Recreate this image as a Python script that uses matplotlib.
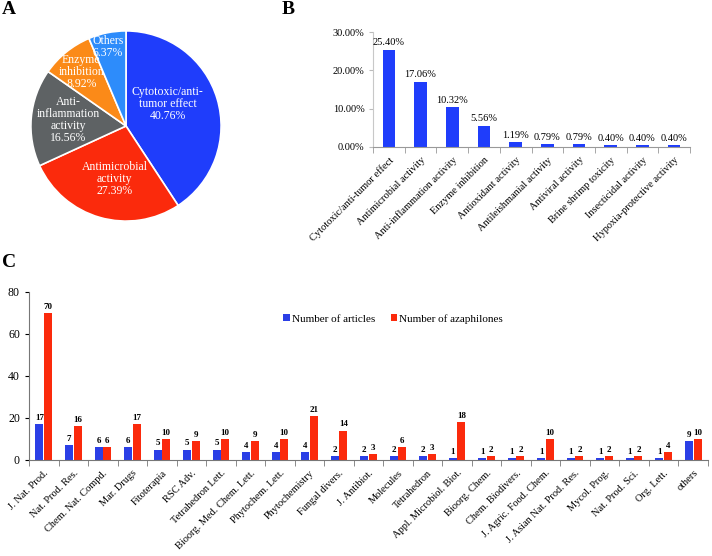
import matplotlib
matplotlib.use("Agg")
import matplotlib.pyplot as plt
import numpy as np

plt.rcParams['font.family'] = ['Liberation Serif', 'DejaVu Serif']

# panel A
pie_labels = ["Cytotoxic/anti-\ntumor effect", "Antimicrobial\nactivity", "Anti-\ninflammation\nactivity",
              "Enzyme\ninhibition", "Others"]
pie_values = [40.76, 27.39, 16.56, 8.92, 6.37]
pie_colors = ['#1f3dfb', '#fb2a0c', '#5e6264', '#fb8a18', '#2d8cfb']

# panel B
act_names = ["Cytotoxic/anti-tumor effect", "Antimicrobial activity", "Anti-inflammation activity",
             "Enzyme inhibition", "Antioxidant activity", "Antileishmanial activity", "Antiviral activity",
             "Brine shrimp toxicity", "Insecticidal activity", "Hypoxia-protective activity"]
act_values = [25.40, 17.06, 10.32, 5.56, 1.19, 0.79, 0.79, 0.40, 0.40, 0.40]

# panel C
journals = ["J. Nat. Prod.", "Nat. Prod. Res.", "Chem. Nat. Compd.", "Mar. Drugs", "Fitoterapia", "RSC Adv.",
            "Tetrahedron Lett.", "Bioorg. Med. Chem. Lett.", "Phytochem. Lett.", "Phytochemistry",
            "Fungal divers.", "J. Antibiot.", "Molecules", "Tetrahedron", "Appl. Microbiol. Biot.",
            "Bioorg. Chem.", "Chem. Biodivers.", "J. Agric. Food. Chem.", "J. Asian Nat. Prod. Res.",
            "Mycol. Prog.", "Nat. Prod. Sci.", "Org. Lett.", "others"]
n_articles = [17, 7, 6, 6, 5, 5, 5, 4, 4, 4, 2, 2, 2, 2, 1, 1, 1, 1, 1, 1, 1, 1, 9]
n_azaphilones = [70, 16, 6, 17, 10, 9, 10, 9, 10, 21, 14, 3, 6, 3, 18, 2, 2, 10, 2, 2, 2, 4, 10]

W, H = 712, 556
fig = plt.figure(figsize=(W / 100, H / 100), dpi=100)


def box(x0, y0, x1, y1):
    return [x0 / W, 1 - y1 / H, (x1 - x0) / W, (y1 - y0) / H]


# ---- A ----
axA = fig.add_axes(box(29, 29, 223, 223))
wedges, texts = axA.pie(pie_values, colors=pie_colors, startangle=90, counterclock=False,
                        wedgeprops=dict(edgecolor='white', linewidth=1.2))
pos = [(0.44, 0.23), (-0.12, -0.56), (-0.61, 0.06), (-0.47, 0.57), (-0.19, 0.83)]
for lab, v, (x, y) in zip(pie_labels, pie_values, pos):
    axA.text(x, y, "%s\n%.2f%%" % (lab, v), color='white', ha='center', va='center',
             fontsize=8.5, linespacing=1.0)
axA.set_xlim(-1.02, 1.02)
axA.set_ylim(-1.02, 1.02)
fig.text(2 / W, 1 - 9 / H, "A", fontsize=14, fontweight='bold', va='center')

# ---- B ----
axB = fig.add_axes(box(373, 32, 690, 147))
xb = np.arange(len(act_values))
axB.bar(xb, act_values, width=0.4, color='#1f3dfb')
for x, v in zip(xb, act_values):
    axB.text(x, v + 0.6, "%.2f%%" % v, ha='center', va='bottom', fontsize=7.5)
axB.set_xlim(-0.5, len(act_values) - 0.5)
axB.set_ylim(0, 30)
axB.set_yticks([0, 10, 20, 30])
axB.set_yticklabels(["%.2f%%" % t for t in [0, 10, 20, 30]], fontsize=7.5)
axB.set_xticks(xb)
axB.set_xticklabels(act_names, rotation=45, ha='right', rotation_mode='anchor', fontsize=7.5)
axB.set_xticks(np.arange(-0.5, len(act_values)), minor=True)
axB.tick_params(axis='x', which='major', length=0, pad=6)
axB.tick_params(axis='x', which='minor', length=4, color='#999999', direction='out')
axB.tick_params(axis='y', length=3, color='#bbbbbb', pad=3)
for s in ['top', 'right']:
    axB.spines[s].set_visible(False)
axB.spines['left'].set_color('#c8c8c8')
axB.spines['bottom'].set_color('#999999')
fig.text(282 / W, 1 - 9 / H, "B", fontsize=14, fontweight='bold', va='center')

# ---- C ----
axC = fig.add_axes(box(29, 292, 708, 460))
xc = np.arange(len(journals))
bw = 0.27
axC.bar(xc - bw / 2 - 0.01, n_articles, width=bw, color='#2b3fe6', label='Number of articles')
axC.bar(xc + bw / 2 + 0.01, n_azaphilones, width=bw, color='#fb2a0c', label='Number of azaphilones')
for x, a, z in zip(xc, n_articles, n_azaphilones):
    axC.text(x - bw / 2 - 0.01, a + 1, str(a), ha='center', va='bottom', fontsize=6.5, fontweight='bold')
    axC.text(x + bw / 2 + 0.01, z + 1, str(z), ha='center', va='bottom', fontsize=6.5, fontweight='bold')
axC.set_xlim(-0.5, len(journals) - 0.5)
axC.set_ylim(0, 80)
axC.set_yticks([0, 20, 40, 60, 80])
axC.tick_params(axis='y', labelsize=8.5, length=3)
axC.set_xticks(xc)
axC.set_xticklabels(journals, rotation=45, ha='right', rotation_mode='anchor', fontsize=7.5)
axC.set_xticks(np.arange(-0.5, len(journals)), minor=True)
axC.tick_params(axis='x', which='major', length=0, pad=6)
axC.tick_params(axis='x', which='minor', length=4, color='#777777', direction='out')
for s in ['top', 'right']:
    axC.spines[s].set_visible(False)
axC.spines['left'].set_color('#777777')
axC.spines['bottom'].set_color('#777777')
axC.legend(loc='center left', bbox_to_anchor=(0.36, 0.84), ncol=2, frameon=False, fontsize=8,
           handlelength=0.6, handleheight=0.6, handletextpad=0.15, columnspacing=1.4)
fig.text(2 / W, 1 - 263 / H, "C", fontsize=14, fontweight='bold', va='center')

fig.savefig("out.png", dpi=100)
